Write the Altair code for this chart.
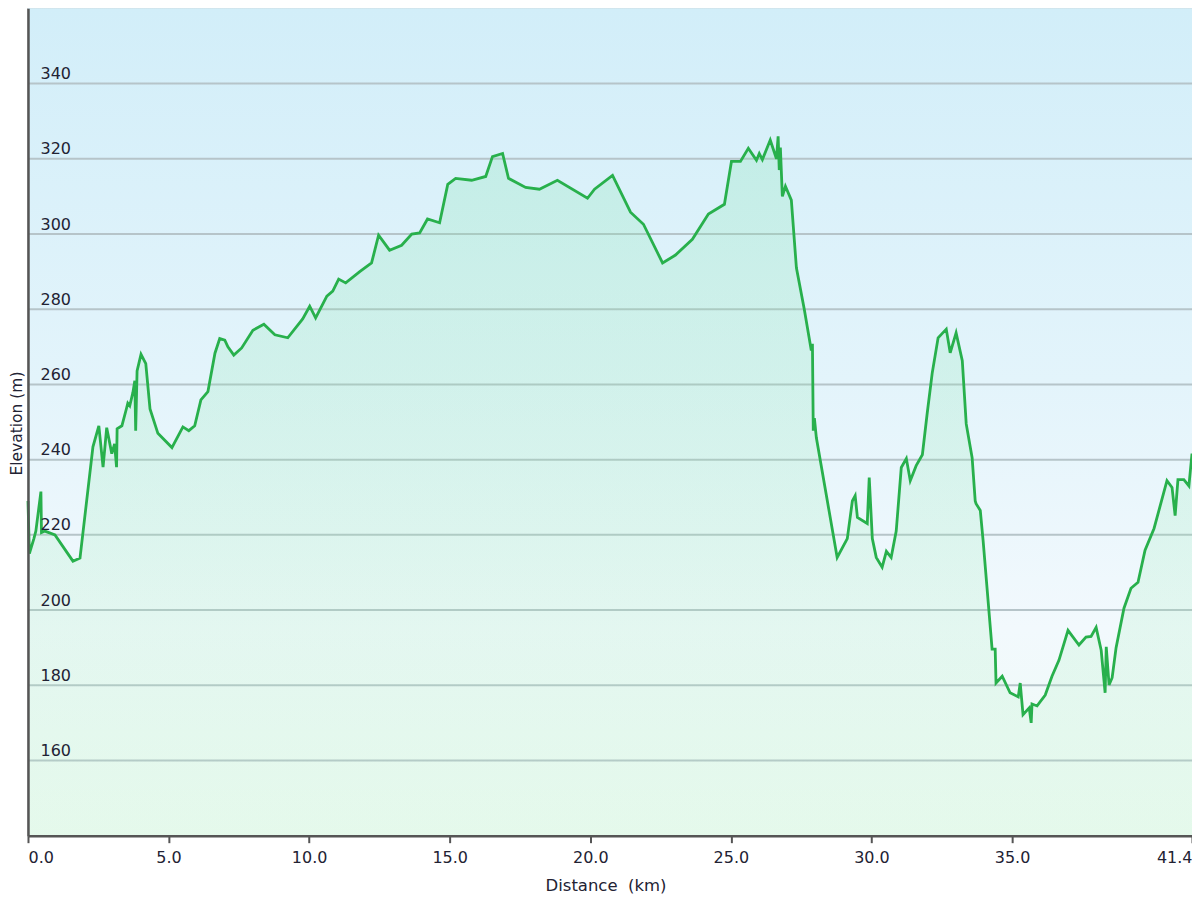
import altair as alt
import pandas as pd

distance_km = [
    0.0, 0.05, 0.21, 0.28, 0.46, 0.48, 0.6, 0.96, 1.6, 1.85,
    2.31, 2.52, 2.67, 2.8, 2.98, 3.08, 3.15, 3.17, 3.34, 3.51,
    3.55, 3.62, 3.73, 3.80, 3.83, 3.88, 4.02, 4.19, 4.34, 4.62,
    5.12, 5.51, 5.72, 5.93, 6.15, 6.40, 6.65, 6.82, 7.0, 7.11,
    7.32, 7.60, 8.0, 8.39, 8.78, 9.24, 9.77, 10.02, 10.23, 10.63,
    10.84, 11.05, 11.30, 11.80, 12.22, 12.47, 12.86, 13.29, 13.65, 13.93,
    14.21, 14.64, 14.93, 15.21, 15.78, 16.28, 16.52, 16.88, 17.09, 17.70,
    18.19, 18.83, 19.90, 20.15, 20.79, 21.43, 21.89, 22.57, 23.03, 23.63,
    24.20, 24.77, 25.02, 25.34, 25.62, 25.91, 26.01, 26.12, 26.40, 26.62,
    26.68, 26.72, 26.76, 26.83, 26.94, 27.15, 27.33, 27.61, 27.86, 27.90,
    27.93, 27.97, 28.04, 28.78, 29.14, 29.32, 29.42, 29.50, 29.85, 29.92,
    30.03, 30.17, 30.38, 30.53, 30.70, 30.88, 31.06, 31.24, 31.38, 31.59,
    31.81, 31.98, 32.16, 32.37, 32.66, 32.80, 33.01, 33.23, 33.37, 33.58,
    33.69, 33.72, 33.87, 33.97, 34.29, 34.40, 34.43, 34.65, 34.93, 35.22,
    35.29, 35.39, 35.61, 35.68, 35.71, 35.89, 36.18, 36.42, 36.67, 36.99,
    37.38, 37.63, 37.81, 37.99, 38.17, 38.31, 38.35, 38.45, 38.56, 38.70,
    38.98, 39.23, 39.48, 39.73, 40.05, 40.51, 40.69, 40.80, 40.90, 41.11,
    41.29, 41.4,
]

elevation_m = [
    229.0, 215.0, 219.0, 221.0, 231.5, 220.6, 221.0, 220.0, 213.0, 213.8,
    243.4, 249.0, 238.0, 248.5, 241.6, 244.2, 238.0, 248.2, 249.0, 253.8,
    255.0, 254.3, 257.8, 261.0, 247.7, 263.6, 268.0, 265.5, 253.5, 247.0,
    243.2, 248.7, 247.7, 249.0, 255.9, 258.1, 268.3, 272.2, 271.8, 270.0,
    267.8, 269.7, 274.4, 276.0, 273.2, 272.4, 277.4, 280.8, 277.7, 283.5,
    284.8, 288.0, 287.0, 290.0, 292.3, 299.7, 295.7, 297.0, 300.0, 300.3,
    304.0, 303.0, 313.2, 314.8, 314.3, 315.3, 320.6, 321.4, 314.8, 312.4,
    311.9, 314.3, 309.5, 311.9, 315.6, 305.8, 302.6, 292.3, 294.4, 298.6,
    305.3, 307.9, 319.3, 319.3, 322.8, 319.6, 321.4, 319.8, 325.0, 320.0,
    326.0, 317.0, 323.0, 310.0, 312.7, 309.0, 291.0, 280.0, 269.0, 270.8,
    247.7, 251.0, 245.8, 214.0, 219.0, 229.0, 230.4, 224.6, 223.0, 235.2,
    219.0, 214.0, 211.4, 215.6, 214.0, 221.0, 237.9, 240.3, 234.4, 238.4,
    241.3, 252.2, 263.0, 272.4, 274.7, 268.4, 273.7, 266.3, 249.5, 240.5,
    229.0, 228.3, 226.5, 218.5, 189.6, 189.6, 180.6, 182.4, 178.0, 176.9,
    180.6, 172.2, 174.0, 170.0, 175.0, 174.5, 177.4, 182.4, 186.7, 194.6,
    190.7, 192.8, 193.0, 195.4, 189.3, 178.0, 190.2, 180.1, 182.0, 190.0,
    200.5, 205.8, 207.4, 215.9, 221.7, 234.4, 232.6, 225.1, 234.7, 234.7,
    233.0, 241.6,
]

y_ticks = [160, 180, 200, 220, 240, 260, 280, 300, 320, 340]
x_ticks = [0, 5, 10, 15, 20, 25, 30, 35, 41.4]

W, H = 1165, 828
FONT = "DejaVu Sans"

df = pd.DataFrame({"km": distance_km, "elev": elevation_m})
grid_df = pd.DataFrame({"elev": y_ticks})

bg_gradient = alt.Gradient(
    gradient="linear", x1=0, x2=0, y1=0, y2=1,
    stops=[
        alt.GradientStop(color="#d2eef9", offset=0),
        alt.GradientStop(color="#e3f4fb", offset=0.45),
        alt.GradientStop(color="#f2f9fd", offset=0.75),
        alt.GradientStop(color="#eefbf3", offset=1),
    ],
)

area_gradient = alt.Gradient(
    gradient="linear", x1=0, x2=0, y1=0, y2=1,
    stops=[
        alt.GradientStop(color="rgba(120,225,165,0.22)", offset=0),
        alt.GradientStop(color="rgba(150,235,175,0.18)", offset=0.6),
        alt.GradientStop(color="rgba(180,240,195,0.16)", offset=1),
    ],
)

x_scale = alt.Scale(domain=[0, 41.4], nice=False, zero=False)
y_scale = alt.Scale(domain=[140, 360], nice=False, zero=False)

x_axis = alt.Axis(
    title="Distance\u00a0\u00a0(km)",
    values=x_ticks,
    format=".1f",
    grid=False,
    zindex=1,
    domainColor="#555555",
    domainWidth=2.5,
    tickColor="#555555",
    tickWidth=2,
    tickSize=7,
    labelPadding=7,
    labelFlush=True,
    labelFont=FONT,
    labelFontSize=16,
    labelColor="#222233",
    titleFont=FONT,
    titleFontSize=16.5,
    titleFontWeight="normal",
    titleColor="#222233",
    titleY=50,
    titleX=578,
    titleBaseline="middle",
)

y_axis = alt.Axis(
    title="Elevation (m)",
    values=y_ticks,
    format="d",
    grid=False,
    zindex=1,
    ticks=False,
    tickSize=0,
    domainColor="#555555",
    domainWidth=2.5,
    labelAlign="left",
    labelBaseline="alphabetic",
    labelPadding=-12,
    labelOffset=-5,
    labelFont=FONT,
    labelFontSize=16,
    labelColor="#222233",
    titleFont=FONT,
    titleFontSize=15.5,
    titleFontWeight="normal",
    titleColor="#222233",
    titleAngle=270,
    titleAlign="center",
    titleBaseline="middle",
    titleX=-11,
    titleY=415,
)

background = alt.Chart(pd.DataFrame({"a": [0]})).mark_rect(
    color=bg_gradient
).encode(
    x=alt.value(0), x2=alt.value(W), y=alt.value(0), y2=alt.value(H)
)

gridlines = alt.Chart(grid_df).mark_rule(
    color="#b6c4c9", strokeWidth=2
).encode(
    y=alt.Y("elev:Q", scale=y_scale, axis=y_axis)
)

area = alt.Chart(df).mark_area(color=area_gradient).encode(
    x=alt.X("km:Q", scale=x_scale, axis=x_axis),
    y=alt.Y("elev:Q", scale=y_scale, axis=y_axis),
    y2=alt.datum(140),
)

line = alt.Chart(df).mark_line(color="#28b04c", strokeWidth=2.8).encode(
    x=alt.X("km:Q", scale=x_scale, axis=x_axis),
    y=alt.Y("elev:Q", scale=y_scale, axis=y_axis),
)

chart = alt.layer(background, gridlines, area, line).properties(
    width=W,
    height=H,
    padding={"left": 20, "top": 0, "right": 0, "bottom": 60},
    autosize=alt.AutoSizeParams(type="none"),
    background="white",
).configure_view(stroke="#cccccc", strokeWidth=1.5)

chart.save("out.html", embed_options={"renderer": "svg", "actions": False})
